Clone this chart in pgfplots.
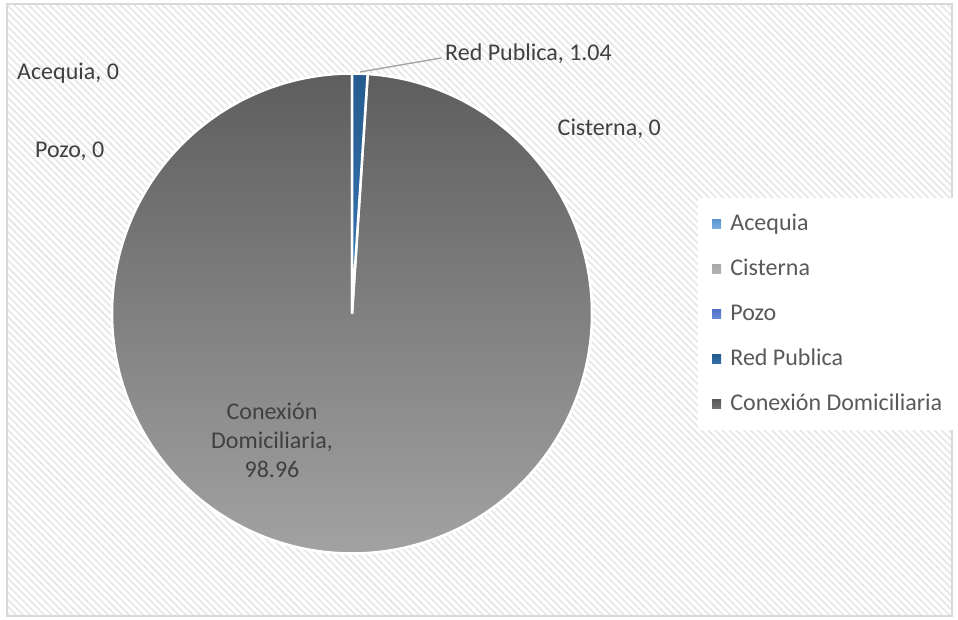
\documentclass[border=0pt]{standalone}
\usepackage{pgfplots}
\pgfplotsset{compat=1.18}
\usepackage{pgfplotstable}
\usetikzlibrary{patterns.meta}
\usepackage{fontspec}
\setmainfont{Carlito}
\definecolor{hatch}{HTML}{E6E6E6}
\definecolor{frame}{HTML}{D9D9D9}
\definecolor{lbl}{HTML}{404040}
\definecolor{legtxt}{HTML}{595959}
\definecolor{conTop}{HTML}{5E5E5E}
\definecolor{conBot}{HTML}{A2A2A2}
\definecolor{redTop}{HTML}{255B8F}
\definecolor{redBot}{HTML}{3A78B5}
\definecolor{aceTop}{HTML}{5A96D0}
\definecolor{aceBot}{HTML}{7AB0E2}
\definecolor{cisTop}{HTML}{A8A8A8}
\definecolor{cisBot}{HTML}{B4B4B4}
\definecolor{pozTop}{HTML}{5273C8}
\definecolor{pozBot}{HTML}{6A8AD8}
\definecolor{rlTop}{HTML}{255B8F}
\definecolor{rlBot}{HTML}{3570AA}
\definecolor{cdTop}{HTML}{595959}
\definecolor{cdBot}{HTML}{737373}
\newcommand\lf{\fontsize{24}{29}\selectfont}
\pgfplotstableread{
label value
Acequia 0
Cisterna 0
Pozo 0
RedPublica 1.04
Conexion 98.96
}\piedata
\begin{document}
\begin{tikzpicture}
\pgfplotstablegetelem{3}{value}\of\piedata \let\vRed\pgfplotsretval
\pgfplotstablegetelem{4}{value}\of\piedata \let\vCon\pgfplotsretval
\pgfmathsetmacro\aS{90}
\pgfmathsetmacro\aA{90-3.6*\vRed}
\pgfmathsetmacro\aB{\aA-3.6*\vCon}
% background
\fill[white] (0,0) rectangle (958pt,620pt);
\fill[pattern={Lines[angle=-45,distance=5pt,line width=1.6pt]},pattern color=hatch] (7pt,4pt) rectangle (952pt,616pt);
\draw[frame,line width=1.3pt] (7pt,4pt) rectangle (952pt,616pt);
\begin{axis}[at={(0,0)},anchor=south west,
  width=958pt,height=620pt,scale only axis,
  xmin=0,xmax=958,ymin=0,ymax=620,y dir=reverse,
  hide axis,clip=false,
  legend cell align=left,
  legend style={at={(axis cs:698,198)},anchor=north west,fill=white,draw=none,
    inner xsep=14pt,inner ysep=15pt,row sep=23pt,font=\lf,text=legtxt,
    nodes={inner sep=0pt,text height=17pt,text depth=5pt}},
  legend image code/.code={\path[#1,draw=none] (0pt,-4.5pt) rectangle (9pt,4.5pt); \path (18pt,0pt);},
]
% Conexion Domiciliaria slice
\addplot[forget plot,draw=white,line width=2.5pt,top color=conTop,bottom color=conBot,
  domain=\aB:\aA,samples=400,variable=\t]
  ({352+240*cos(t)},{313.5-240*sin(t)}) -- (axis cs:352,313.5) -- cycle;
% Red Publica slice
\addplot[forget plot,draw=white,line width=2.5pt,top color=redTop,bottom color=redBot,
  domain=\aA:\aS,samples=20,variable=\t]
  ({352+240*cos(t)},{313.5-240*sin(t)}) -- (axis cs:352,313.5) -- cycle;
% legend
\addlegendimage{top color=aceTop,bottom color=aceBot}
\addlegendentry{Acequia}
\addlegendimage{top color=cisTop,bottom color=cisBot}
\addlegendentry{Cisterna}
\addlegendimage{top color=pozTop,bottom color=pozBot}
\addlegendentry{Pozo}
\addlegendimage{top color=rlTop,bottom color=rlBot}
\addlegendentry{Red Publica}
\addlegendimage{top color=cdTop,bottom color=cdBot}
\addlegendentry{Conexión Domiciliaria}
% leader line and labels
\draw[black!35,line width=1.4pt] (axis cs:360,72) -- (axis cs:441,58);
\node[anchor=base west,inner sep=0pt,text=lbl,font=\lf] at (axis cs:17,79.5) {Acequia, 0};
\node[anchor=base west,inner sep=0pt,text=lbl,font=\lf] at (axis cs:35,157.5) {Pozo, 0};
\node[anchor=base west,inner sep=0pt,text=lbl,font=\lf] at (axis cs:445,60.5) {Red Publica, 1.04};
\node[anchor=base west,inner sep=0pt,text=lbl,font=\lf] at (axis cs:557.5,136) {Cisterna, 0};
\node[anchor=base,inner sep=0pt,text=lbl,font=\lf] at (axis cs:272,419.5) {Conexión};
\node[anchor=base,inner sep=0pt,text=lbl,font=\lf] at (axis cs:272,448.5) {Domiciliaria,};
\node[anchor=base,inner sep=0pt,text=lbl,font=\lf] at (axis cs:272,477) {98.96};
\end{axis}
\end{tikzpicture}
\end{document}
